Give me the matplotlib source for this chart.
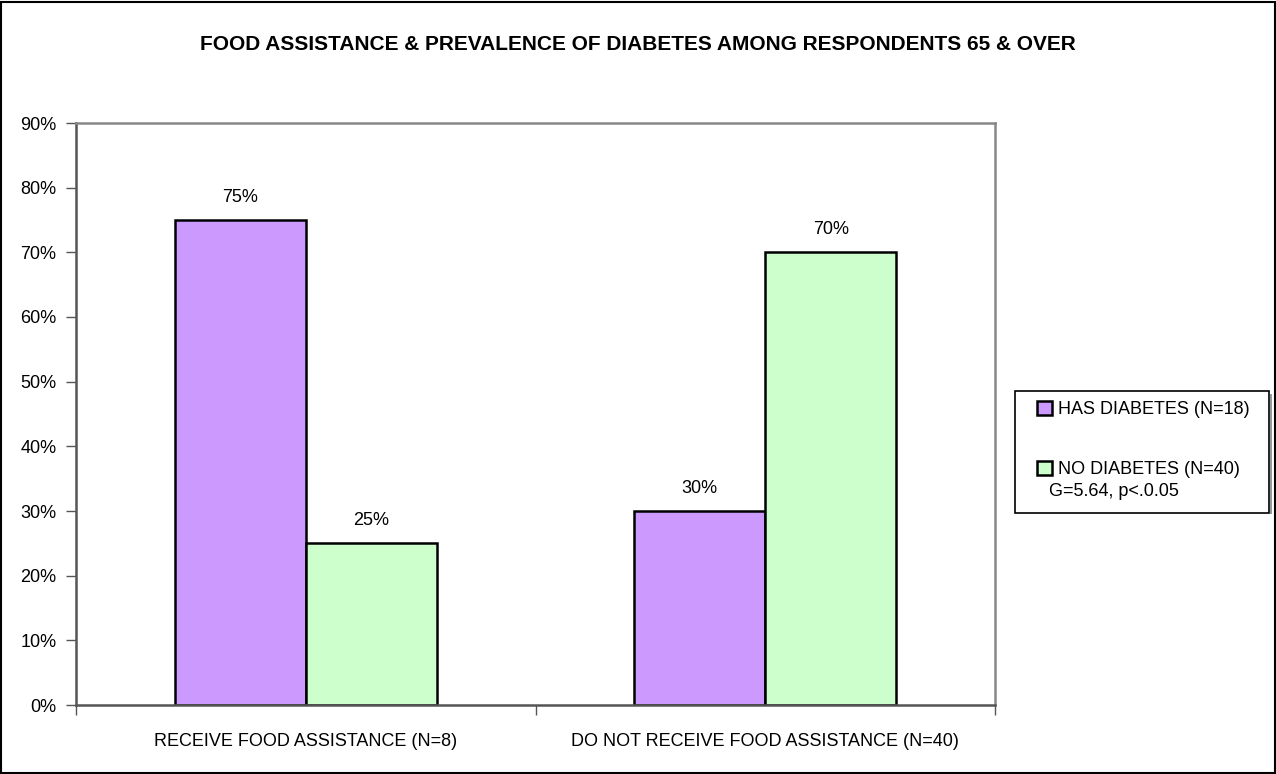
import matplotlib.pyplot as plt
from matplotlib.patches import Rectangle

plt.rcParams['font.family'] = ['Liberation Sans Narrow', 'Liberation Sans', 'DejaVu Sans']

groups = ['RECEIVE FOOD ASSISTANCE (N=8)', 'DO NOT RECEIVE FOOD ASSISTANCE (N=40)']
has_diabetes = [75, 30]
no_diabetes = [25, 70]
series_labels = ['HAS DIABETES (N=18)', 'NO DIABETES (N=40)']
test_note = 'G=5.64, p<.0.05'
title = 'FOOD ASSISTANCE & PREVALENCE OF DIABETES AMONG RESPONDENTS 65 & OVER'

W, H = 1276, 774
fig = plt.figure(figsize=(W / 100, H / 100), dpi=100)
ax = fig.add_axes([76 / W, 1 - 705 / H, 919 / W, 582 / H])

x = range(len(groups))
w = 0.285
b1 = ax.bar([i - w / 2 for i in x], has_diabetes, w, color='#CC99FF',
            edgecolor='black', linewidth=1.8, label=series_labels[0])
b2 = ax.bar([i + w / 2 for i in x], no_diabetes, w, color='#CCFFCC',
            edgecolor='black', linewidth=1.8, label=series_labels[1])

for bars, vals in ((b1, has_diabetes), (b2, no_diabetes)):
    for rect, v in zip(bars, vals):
        ax.annotate(f'{v}%', (rect.get_x() + rect.get_width() / 2, v),
                    xytext=(0, 10), textcoords='offset points',
                    ha='center', va='bottom', fontsize=13)

ax.set_xlim(-0.5, 1.5)
ax.set_ylim(0, 90)
ax.set_yticks(range(0, 91, 10))
ax.set_yticklabels([f'{t}%' for t in range(0, 91, 10)], fontsize=13)
ax.set_xticks(list(x))
ax.set_xticklabels(groups, fontsize=13)
ax.set_xticks([-0.5, 0.5, 1.5], minor=True)
ax.tick_params(axis='x', which='major', length=0, pad=20)
ax.tick_params(axis='x', which='minor', length=7, width=1, color='#555555')
ax.tick_params(axis='y', length=7, width=1, color='#555555', pad=7)

for side in ['top', 'right']:
    ax.spines[side].set_color('#888888')
    ax.spines[side].set_linewidth(1.8)
for side in ['left', 'bottom']:
    ax.spines[side].set_color('#555555')
    ax.spines[side].set_linewidth(1.8)

# legend entries without frame; the box and test note are drawn around them
fig.legend(loc='upper left', bbox_to_anchor=(1037 / W, 1 - 401 / H),
           fontsize=13, frameon=False, handlelength=0.85, handleheight=0.85,
           handletextpad=0.3, labelspacing=2.35, borderpad=0, borderaxespad=0)
fig.text(1049 / W, 1 - 491 / H, test_note, ha='left', va='center', fontsize=13)
fig.patches.append(Rectangle((1015 / W, 1 - 513 / H), 254 / W, 122 / H,
                             transform=fig.transFigure, fill=False,
                             edgecolor='black', linewidth=1.2))
fig.patches.append(Rectangle((1270 / W, 1 - 514 / H), 2 / W, 120 / H,
                             transform=fig.transFigure, facecolor='#999999',
                             edgecolor='none'))

fig.text(0.5, 1 - 45 / H, title, ha='center', va='center',
         fontsize=15, fontweight='bold')

fig.patches.append(Rectangle((0.001, 0.001), 0.998, 0.997, transform=fig.transFigure,
                             fill=False, edgecolor='black', linewidth=1.5))

fig.savefig('out.png', dpi=100)
